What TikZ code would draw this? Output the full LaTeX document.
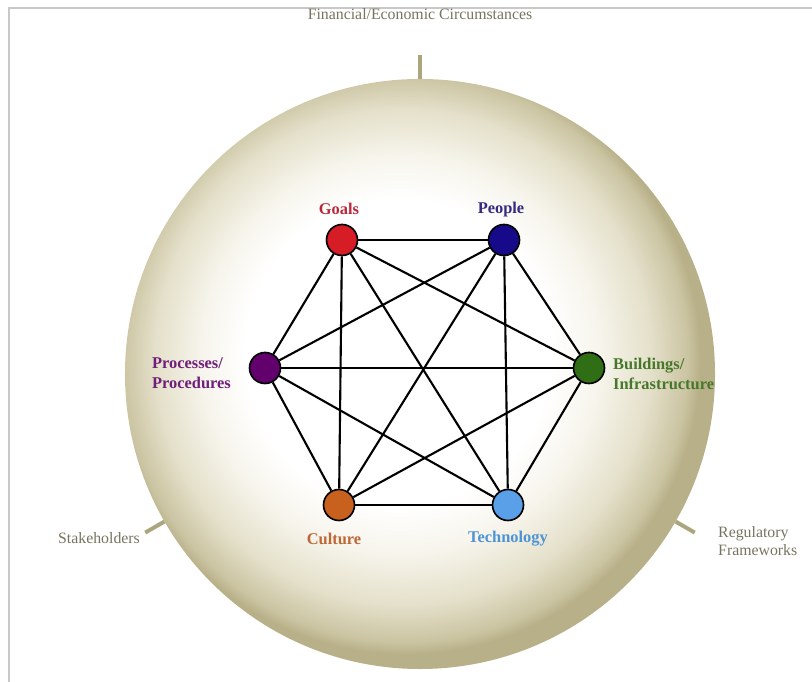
\documentclass[tikz,border=0pt]{standalone}
\usepackage{fontspec}
\setmainfont{Liberation Serif}
\usepackage{xcolor}
\usepackage{tikz}
\definecolor{framegray}{RGB}{200,200,200}
\definecolor{outergray}{RGB}{118,116,94}
\definecolor{stubkhaki}{RGB}{172,166,126}
\definecolor{discA}{RGB}{246,244,235}
\definecolor{discB}{RGB}{228,224,202}
\definecolor{discC}{RGB}{203,196,162}
\definecolor{discD}{RGB}{184,176,136}
\definecolor{goalred}{RGB}{214,28,36}
\definecolor{goaltext}{RGB}{185,40,58}
\definecolor{peopleblue}{RGB}{22,10,138}
\definecolor{peopletext}{RGB}{52,42,130}
\definecolor{procpurple}{RGB}{98,0,110}
\definecolor{proctext}{RGB}{112,30,122}
\definecolor{buildgreen}{RGB}{48,110,22}
\definecolor{buildtext}{RGB}{70,120,42}
\definecolor{cultorange}{RGB}{200,96,30}
\definecolor{culttext}{RGB}{190,102,52}
\definecolor{techblue}{RGB}{90,160,232}
\definecolor{techtext}{RGB}{78,148,212}
\pgfdeclareradialshading{rimshade}{\pgfpoint{-2.5bp}{2.5bp}}{color(0bp)=(white); color(13bp)=(white); color(17bp)=(discA); color(21bp)=(discB); color(24bp)=(discC); color(25bp)=(discD); color(50bp)=(discD)}

\begin{document}
\begin{tikzpicture}[x=0.03cm,y=0.03cm,
  member/.style={circle,draw=black,line width=1.4pt,minimum size=0.93cm,inner sep=0pt},
  memberlbl/.style={font=\fontsize{14}{17}\selectfont\bfseries,inner sep=0pt,align=left},
  outerlbl/.style={font=\fontsize{13.5}{15.5}\selectfont,text=outergray,inner sep=0pt,align=left},
  tie/.style={line width=1.8pt,black},
  stub/.style={line width=3.4pt,stubkhaki}]
\useasboundingbox (0,0) rectangle (812,682);
% Draw the frame
\draw[framegray,line width=1.7pt] (812,674) -- (9,674) -- (9,0);
% Draw the shaded disc
\node[circle,shade,shading=rimshade,minimum size=17.7cm,inner sep=0pt] (disc) at (420,308) {};
% Draw the stubs and outer labels
\draw[stub] (disc.90) -- ++(90:24);
\draw[stub] (disc.210) -- ++(210:22);
\draw[stub] (disc.330) -- ++(330:22);
\node[outerlbl] (finance) at (420,668) {Financial/Economic Circumstances};
\node[outerlbl] (stake) at (99,144) {Stakeholders};
\node[outerlbl,anchor=west] (regul) at (718,141) {Regulatory\\Frameworks};
% Draw the six members
\node[member,fill=goalred] (goals) at (342,442) {};
\node[member,fill=peopleblue] (people) at (504,442) {};
\node[member,fill=procpurple] (proc) at (265,314) {};
\node[member,fill=buildgreen] (build) at (589,314) {};
\node[member,fill=cultorange] (cult) at (339,177) {};
\node[member,fill=techblue] (tech) at (508,177) {};
% Add member labels
\node[memberlbl,text=goaltext] (goalslbl) at (339,473) {Goals};
\node[memberlbl,text=peopletext] (peoplelbl) at (501,472) {People};
\node[memberlbl,text=proctext,anchor=east] (proclbl) at (231,309) {Processes/\\Procedures};
\node[memberlbl,text=buildtext,anchor=west] (buildlbl) at (613,308) {Buildings/\\Infrastructure};
\node[memberlbl,text=culttext] (cultlbl) at (334,143) {Culture};
\node[memberlbl,text=techtext] (techlbl) at (508,143) {Technology};
% Connect every pair
\foreach \a/\b in {goals/people,goals/proc,goals/build,goals/cult,goals/tech,
  people/proc,people/build,people/cult,people/tech,
  proc/build,proc/cult,proc/tech,
  build/cult,build/tech,cult/tech}
  \draw[tie] (\a) -- (\b);
\end{tikzpicture}
\end{document}
